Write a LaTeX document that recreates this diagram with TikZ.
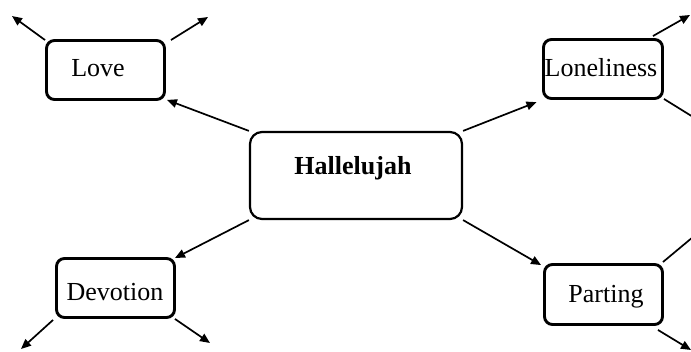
\documentclass[tikz,border=0pt]{standalone}
\usepackage{fontspec}
\setmainfont{Liberation Serif}
\usetikzlibrary{arrows.meta}
\begin{document}
\begin{tikzpicture}[x=1pt,y=-1pt,
  box/.style={draw=black, line width=2.9pt, rounded corners=8pt, inner sep=0pt},
  hbox/.style={draw=black, line width=2.2pt, rounded corners=12pt, inner sep=0pt},
  lbl/.style={font=\fontsize{26}{26}\selectfont, inner sep=0pt},
  conn/.style={line width=1.7pt, -{Triangle[length=10pt,width=8.5pt]}}
]
\useasboundingbox (0,0) rectangle (691,352);
% boxes
\node[hbox, minimum width=212pt, minimum height=87pt] (hal) at (356,175.5) {};
\node[box, minimum width=118pt, minimum height=59pt] (love) at (105.5,70) {};
\node[box, minimum width=119pt, minimum height=59pt] (lone) at (603,69) {};
\node[box, minimum width=118pt, minimum height=59pt] (dev) at (115.5,288) {};
\node[box, minimum width=118pt, minimum height=60pt] (part) at (603.5,294.5) {};
% labels
\node[lbl, font=\fontsize{26}{26}\selectfont\bfseries] (halt) at (353,168) {Hallelujah};
\node[lbl] (lovet) at (98,68) {Love};
\node[lbl] (lonet) at (601,68) {Loneliness};
\node[lbl] (devt) at (115,292) {Devotion};
\node[lbl] (partt) at (606,297) {Parting};
% free ends
\coordinate (a1) at (12,16);
\coordinate (a2) at (208,17);
\coordinate (a3) at (690,15);
\coordinate (a4) at (702,122.5);
\coordinate (a5) at (702,229.5);
\coordinate (a6) at (691,350);
\coordinate (a7) at (21,349);
\coordinate (a8) at (210,343);
% connectors from centre
\draw[conn] (hal.north west) -- ([shift={(1,-1)}]love.south east);
\draw[conn, shorten >=6pt] (hal.north east) -- (lone.south west);
\draw[conn] (hal.south west) -- ([shift={(-1,1)}]dev.north east);
\draw[conn] (hal.south east) -- ([shift={(-2,2)}]part.north west);
% outward connectors
\draw[conn] ([shift={(0,1)}]love.north west) -- (a1);
\draw[conn] ([shift={(5,1)}]love.north east) -- (a2);
\draw[conn] ([shift={(-11,-2)}]lone.north east) -- (a3);
\draw[conn] ([shift={(0,-1)}]lone.south east) -- (a4);
\draw[conn] ([shift={(-1,-1)}]part.north east) -- (a5);
\draw[conn] ([shift={(-6,4)}]part.south east) -- (a6);
\draw[conn] ([shift={(-2,1)}]dev.south west) -- (a7);
\draw[conn] ([shift={(-1,0)}]dev.south east) -- (a8);
\end{tikzpicture}
\end{document}
